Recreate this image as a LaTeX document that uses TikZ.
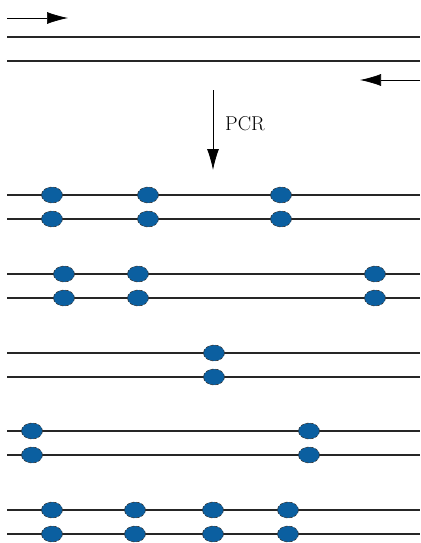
\documentclass[tikz,border=0pt]{standalone}
\usetikzlibrary{shapes.geometric,arrows.meta}
\definecolor{dotblue}{HTML}{0B5FA0}
\tikzset{
  strand/.style={line width=1.4pt, black!85},
  dnadot/.style={ellipse, draw=black!80, densely dashed, line width=0.6pt, fill=dotblue, minimum width=21pt, minimum height=16pt, inner sep=0pt},
  primer/.style={line width=0.7pt, -{Latex[length=21pt,width=12pt]}},
}
\begin{document}
\begin{tikzpicture}[x=1pt,y=-1pt]
\useasboundingbox (0,0) rectangle (420,543);
% top primers and template
\coordinate (p1s) at (7,18); \coordinate (p1e) at (68,18);
\draw[primer] (p1s) -- (p1e);
\coordinate (t1s) at (7,37); \coordinate (t1e) at (420,37);
\coordinate (t2s) at (7,61); \coordinate (t2e) at (420,61);
\draw[strand] (t1s) -- (t1e);
\draw[strand] (t2s) -- (t2e);
\coordinate (p2s) at (420,80); \coordinate (p2e) at (360,80);
\draw[primer] (p2s) -- (p2e);
% PCR arrow
\coordinate (pcrs) at (213,90); \coordinate (pcre) at (213,170);
\draw[line width=0.8pt, -{Latex[length=21pt,width=12pt]}] (pcrs) -- (pcre);
\node[font=\fontsize{20}{24}\selectfont, anchor=west, inner sep=0pt] (pcr) at (225,124) {PCR};
% groups
\foreach \ya/\yb/\xs [count=\g] in {195/219/{52,148,281}, 274/298/{64,138,375}, 353/377/{214}, 431/455/{32,309}, 510/534/{52,135,213,288}}{
  \coordinate (g\g as) at (7,\ya); \coordinate (g\g ae) at (420,\ya);
  \coordinate (g\g bs) at (7,\yb); \coordinate (g\g be) at (420,\yb);
  \draw[strand] (g\g as) -- (g\g ae);
  \draw[strand] (g\g bs) -- (g\g be);
  \foreach \x [count=\i] in \xs {
    \node[dnadot] (d\g a\i) at (\x,\ya) {};
    \node[dnadot] (d\g b\i) at (\x,\yb) {};
  }
}
\end{tikzpicture}
\end{document}
